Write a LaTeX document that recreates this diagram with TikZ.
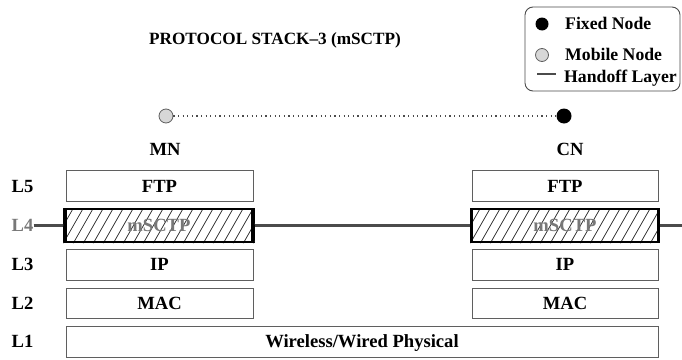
\documentclass[tikz,border=0pt]{standalone}
\usepackage{fontspec}
\setmainfont{Liberation Serif}
\definecolor{boxgray}{RGB}{95,95,95}
\definecolor{linegray}{RGB}{75,75,75}
\definecolor{labgray}{RGB}{120,120,120}
\definecolor{mobfill}{RGB}{215,215,215}
\begin{document}
\begin{tikzpicture}[x=1pt,y=-1pt,
  lbl/.style={font=\fontsize{18.6}{21}\selectfont\bfseries, inner sep=0pt, text height=12.3pt, text depth=0pt},
  ttl/.style={font=\fontsize{17.2}{20}\selectfont\bfseries, inner sep=0pt, text height=11.4pt, text depth=0pt},
  layerbox/.style={draw=boxgray, line width=0.9pt, fill=white, minimum height=31pt, inner sep=0pt, lbl},
  hobox/.style={draw=black, line width=2.4pt, minimum height=33pt, inner sep=0pt},
  handoff/.style={draw=linegray, line width=2.2pt},
  fixednode/.style={circle, fill=black, inner sep=0pt, minimum size=#1},
  mobilenode/.style={circle, draw=boxgray, line width=0.8pt, fill=mobfill, inner sep=0pt, minimum size=#1},
  hatch/.style={draw=black!85, line width=0.7pt},
  legendtxt/.style={font=\fontsize{17.7}{20}\selectfont\bfseries, inner sep=0pt, text height=11.7pt, text depth=0pt, anchor=west}]
\useasboundingbox (0,0) rectangle (682,359);

% title
\node[ttl] (title) at (275,38.5) {PROTOCOL STACK--3 (mSCTP)};

% legend
\draw[draw=linegray, line width=0.9pt, rounded corners=8pt] (525,7) rectangle (680,91);
\node[fixednode=13pt] (lfix) at (542,24) {};
\node[legendtxt] (lfixt) at (565,24) {Fixed Node};
\node[mobilenode=13pt] (lmob) at (542,55) {};
\node[legendtxt] (lmobt) at (565,55) {Mobile Node};
\coordinate (lhoa) at (537,74);
\coordinate (lhob) at (556,74);
\draw[handoff] (lhoa) -- (lhob);
\node[legendtxt] (lhot) at (564,76.5) {Handoff Layer};

% end nodes
\node[mobilenode=14pt] (mn) at (166,116) {};
\node[fixednode=15pt] (cn) at (564,116) {};
\draw[linegray, line width=1.3pt, dash pattern=on 1.2pt off 3.4pt] (mn.east) -- (cn.west);
\node[lbl] (mnl) at (165,149) {MN};
\node[lbl] (cnl) at (570,149) {CN};

% row labels
\node[lbl] (l5) at (22.5,186) {L5};
\node[lbl, text=labgray] (l4) at (22.5,225.5) {L4};
\node[lbl] (l3) at (22.5,264.5) {L3};
\node[lbl] (l2) at (22.5,303) {L2};
\node[lbl] (l1) at (22.5,341.5) {L1};

% MN stack
\node[layerbox, minimum width=187pt] (mnftp) at (159.5,186) {FTP};
\node[layerbox, minimum width=187pt] (mnip) at (159.5,264.5) {IP};
\node[layerbox, minimum width=187pt, minimum height=30pt] (mnmac) at (159.5,303) {MAC};
% CN stack
\node[layerbox, minimum width=186pt] (cnftp) at (565,186) {FTP};
\node[layerbox, minimum width=186pt] (cnip) at (565,264.5) {IP};
\node[layerbox, minimum width=186pt, minimum height=30pt] (cnmac) at (565,303) {MAC};
% physical
\node[layerbox, minimum width=592pt] (phy) at (362,341.5) {Wireless/Wired Physical};

% handoff layer boxes
\node[hobox, minimum width=189pt, fill=white] (mnsctp) at (159,225.5) {};
\node[hobox, minimum width=187pt, fill=white] (cnsctp) at (565,225.5) {};
\foreach \b in {mnsctp,cnsctp}{
  \begin{scope}
    \clip (\b.south west) rectangle (\b.north east);
    \foreach \i in {-30,-20,...,200}{
      \draw[hatch] ([xshift=\i pt]\b.south west) -- ++(20,-35);
    }
  \end{scope}
  \node[hobox, minimum width=187pt] at (\b) {};
}
\node[lbl, text=labgray] (mnst) at (mnsctp) {mSCTP};
\node[lbl, text=labgray] (cnst) at (cnsctp) {mSCTP};

\coordinate (rend) at (682,225.5);
\draw[handoff] (l4.east) -- (mnsctp.west);
\draw[handoff] (mnsctp.east) -- (cnsctp.west);
\draw[handoff] (cnsctp.east) -- (rend);
\end{tikzpicture}
\end{document}
